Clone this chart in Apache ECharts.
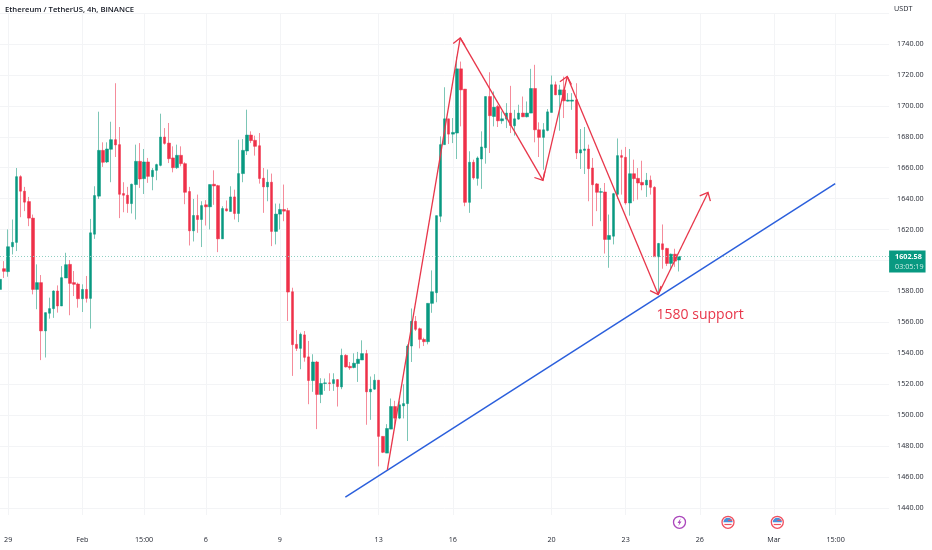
<!DOCTYPE html>
<html><head><meta charset="utf-8">
<style>html,body{margin:0;padding:0;background:#fff}#c{width:932px;height:550px}</style>
<script src="https://cdn.jsdelivr.net/npm/echarts@6/dist/echarts.min.js"></script>
</head><body><div id="c"></div>
<script>
// [open, close, low, high], one row per 4h bar
const candles = [
[1581.3,1587.8,1572.8,1588.9],[1594.7,1593.0,1588.7,1599.6],[1592.8,1608.9,1589.5,1620.1],[1608.9,1611.7,1603.9,1626.5],
[1611.7,1654.2,1606.1,1659.8],[1654.2,1644.8,1628.0,1655.1],[1644.8,1637.7,1631.9,1647.6],[1638.1,1627.4,1622.2,1641.1],
[1627.4,1581.3,1578.1,1629.7],[1581.3,1585.7,1568.5,1597.5],[1585.7,1554.5,1535.6,1590.6],[1554.5,1566.3,1537.3,1566.3],
[1565.9,1568.9,1562.4,1576.0],[1568.9,1580.3,1562.9,1580.7],[1580.3,1570.6,1566.3,1583.9],[1570.6,1588.9,1570.6,1596.4],
[1588.7,1597.3,1588.7,1605.0],[1597.5,1585.2,1564.6,1600.3],[1585.7,1584.6,1577.0,1593.2],[1584.8,1575.3,1569.5,1585.7],
[1575.3,1581.3,1566.7,1584.6],[1581.3,1575.5,1572.8,1590.0],[1575.5,1617.9,1556.0,1626.9],[1617.0,1642.0,1614.0,1648.0],
[1641.6,1671.2,1639.8,1696.2],[1671.2,1663.5,1660.5,1676.4],[1663.7,1672.1,1663.0,1676.4],[1671.9,1678.1,1650.6,1689.7],
[1678.1,1674.7,1666.9,1714.6],[1674.9,1642.8,1627.4,1686.3],[1643.3,1642.2,1631.2,1650.6],[1642.2,1636.8,1630.8,1647.6],
[1636.8,1649.3,1630.4,1649.7],[1649.1,1664.1,1626.5,1674.9],[1664.1,1652.7,1646.9,1675.9],[1652.9,1663.7,1643.0,1672.1],
[1663.7,1654.4,1650.2,1666.3],[1654.2,1658.3,1645.4,1659.8],[1658.3,1662.0,1651.9,1662.6],[1661.5,1679.8,1660.9,1694.9],
[1679.8,1675.7,1674.9,1685.6],[1675.9,1665.8,1663.0,1688.9],[1666.3,1660.0,1657.0,1673.8],[1660.0,1668.0,1659.2,1674.9],
[1668.0,1662.6,1660.9,1673.8],[1662.6,1644.1,1636.4,1663.5],[1644.6,1619.2,1609.7,1647.6],[1619.2,1629.1,1612.3,1639.8],
[1629.1,1626.5,1617.9,1642.6],[1626.5,1635.5,1608.7,1638.3],[1636.0,1634.7,1622.6,1639.0],[1634.7,1649.1,1620.1,1649.1],
[1649.3,1648.2,1636.0,1658.3],[1648.4,1614.0,1605.4,1648.9],[1614.0,1633.6,1614.0,1635.1],[1633.4,1632.1,1631.7,1638.8],
[1631.7,1641.1,1631.7,1648.0],[1641.1,1630.4,1626.5,1645.8],[1630.4,1656.2,1624.8,1678.1],[1656.2,1671.2,1650.6,1678.5],
[1670.8,1681.1,1668.2,1697.5],[1681.1,1677.5,1675.9,1683.5],[1677.7,1673.8,1667.8,1680.7],[1674.2,1653.0,1649.7,1682.4],
[1653.2,1647.6,1630.8,1659.8],[1647.6,1650.6,1638.3,1658.8],[1650.6,1618.8,1609.3,1656.2],[1618.8,1630.0,1610.4,1636.8],
[1630.0,1633.0,1620.1,1636.8],[1633.0,1631.9,1625.4,1649.1],[1632.3,1579.6,1560.9,1634.0],[1579.8,1545.6,1525.4,1582.4],
[1545.8,1543.2,1541.5,1555.1],[1543.2,1552.3,1529.7,1553.4],[1551.9,1537.4,1534.6,1554.4],[1537.7,1522.4,1507.1,1548.0],
[1522.4,1534.4,1515.1,1539.4],[1534.4,1513.4,1491.0,1535.1],[1513.4,1520.5,1507.8,1523.9],[1520.5,1520.9,1515.7,1523.7],
[1520.9,1520.5,1515.7,1527.1],[1520.5,1523.0,1515.7,1527.1],[1523.0,1518.5,1505.6,1523.2],[1518.3,1538.7,1516.8,1543.0],
[1538.7,1531.2,1530.8,1539.4],[1531.6,1530.6,1529.3,1534.4],[1530.8,1533.6,1530.3,1540.0],[1533.4,1536.2,1521.5,1540.9],
[1535.7,1539.8,1535.7,1548.4],[1539.8,1515.1,1493.8,1542.2],[1515.1,1516.8,1497.0,1525.0],[1516.8,1522.6,1516.4,1526.5],
[1522.6,1486.3,1466.9,1522.8],[1486.3,1476.0,1475.5,1486.3],[1475.5,1491.4,1475.5,1494.2],[1491.0,1505.6,1491.0,1510.8],
[1505.6,1498.1,1492.1,1509.3],[1498.1,1506.7,1497.4,1509.3],[1506.0,1507.5,1497.9,1520.0],[1507.5,1544.7,1483.3,1545.8],
[1544.7,1560.7,1534.4,1569.0],[1560.7,1555.5,1554.4,1564.1],[1555.9,1549.0,1543.2,1556.6],[1549.0,1547.5,1544.7,1550.1],
[1547.5,1572.3,1545.8,1572.3],[1572.3,1579.8,1566.2,1593.6],[1579.2,1629.0,1573.0,1629.0],[1628.6,1674.9,1624.8,1680.2],
[1674.9,1691.6,1674.9,1712.0],[1691.6,1681.7,1675.3,1691.6],[1681.7,1682.8,1675.9,1692.1],[1682.4,1723.9,1665.6,1731.8],
[1723.9,1710.3,1686.7,1728.6],[1710.8,1637.6,1635.1,1710.8],[1637.6,1663.5,1630.8,1670.6],[1663.5,1653.4,1652.3,1665.2],
[1653.1,1666.3,1648.4,1667.3],[1665.6,1673.4,1646.3,1683.5],[1672.9,1706.0,1662.6,1706.0],[1706.0,1693.6,1669.5,1721.7],
[1693.1,1699.1,1686.7,1709.3],[1699.6,1690.3,1686.3,1700.7],[1690.3,1691.6,1688.4,1696.4],[1691.4,1695.3,1685.6,1701.7],
[1695.3,1687.3,1682.4,1712.9],[1687.1,1691.6,1680.7,1697.4],[1691.4,1695.3,1691.0,1700.7],[1695.3,1692.9,1692.7,1706.0],
[1692.9,1695.3,1692.5,1702.8],[1695.3,1711.2,1695.3,1723.9],[1711.2,1684.5,1676.4,1726.5],[1684.5,1679.6,1666.9,1689.3],
[1679.6,1684.5,1658.7,1688.8],[1684.1,1696.1,1683.5,1697.9],[1695.7,1713.6,1695.7,1719.6],[1713.6,1707.1,1706.9,1715.7],
[1707.1,1710.3,1683.9,1713.6],[1710.3,1703.2,1692.1,1718.9],[1703.0,1703.7,1702.8,1708.2],[1703.0,1703.7,1697.4,1708.2],
[1703.9,1669.5,1665.6,1714.6],[1669.5,1671.6,1659.2,1685.0],[1671.2,1672.1,1655.9,1686.3],[1672.1,1659.4,1638.3,1674.9],
[1659.8,1649.0,1622.2,1666.3],[1649.5,1644.1,1631.9,1650.1],[1644.1,1644.5,1625.4,1646.9],[1644.3,1613.6,1604.5,1650.1],
[1613.6,1616.2,1595.3,1629.7],[1615.7,1643.2,1610.4,1643.7],[1642.8,1667.8,1639.8,1678.9],[1667.8,1666.7,1642.6,1671.6],
[1666.7,1637.2,1636.1,1673.4],[1637.2,1656.1,1629.0,1672.1],[1656.1,1652.9,1638.3,1665.2],[1653.1,1650.1,1639.4,1659.8],
[1650.5,1648.8,1645.4,1664.5],[1648.8,1651.9,1641.1,1656.6],[1651.9,1647.3,1642.6,1654.9],[1647.3,1602.4,1602.4,1648.0],
[1602.4,1611.0,1579.2,1611.4],[1610.8,1607.1,1594.7,1623.3],[1607.8,1598.1,1596.4,1608.2],[1598.1,1604.1,1594.2,1604.5],
[1604.1,1599.6,1595.9,1607.6],[1600.3,1602.6,1592.9,1602.8]
];
// time-axis bars with a label, and the labels themselves
const barCount = 217;
const tickBars = [2,20,35,50,68,92,110,134,152,170,188,203];
const tickLabels = ['29','Feb','15:00','6','9','13','16','20','23','26','Mar','15:00'];
// price levels whose tick label does not appear (top of pane, and the one under the price tag)
const hiddenPriceLabels = [1760,1600];
// drawn annotations as [bar, price] pairs
const zigzag = [[94.1,1464.7],[111.8,1743.9],[131.9,1651.8],[137.8,1718.9],[159.9,1578],[172,1644]];
const trendline = [[83.9,1447.1],[202.9,1649.7]];
const supportNote = ['1580 support',170.1,1565];
const lastPrice = 1602.58;
const countdown = '03:05:19';
const title = 'Ethereum / TetherUS, 4h, BINANCE';
const currency = 'USDT';

const UP='#089981', DOWN='#ee3049', UPW='#7cc6b6', DOWNW='#f58c9b', RED='#e8364a', BLUE='#2b5fdc', TXT='#1e222d', GRID='#f3f4f6';
const FONT='"Open Sans"', FS=7.2;
const cats = Array.from({length:barCount},(_,i)=>{const k=tickBars.indexOf(i);return k>=0?tickLabels[k]+'|'+i:'b'+i;});
const tickSet = new Set(tickBars);
const segs=[]; for(let i=0;i<zigzag.length-1;i++) segs.push([...zigzag[i],...zigzag[i+1]]);

function arrows(params,api){
  const a=api.coord([api.value(0),api.value(1)]), b=api.coord([api.value(2),api.value(3)]);
  const ang=Math.atan2(a[1]-b[1],a[0]-b[0]), L=9, w=0.72;
  const p=t=>[b[0]+L*Math.cos(ang+t),b[1]+L*Math.sin(ang+t)];
  return {type:'group',children:[
    {type:'line',shape:{x1:a[0],y1:a[1],x2:b[0],y2:b[1]},style:{stroke:RED,lineWidth:1.3}},
    {type:'polyline',shape:{points:[p(w),b,p(-w)]},style:{stroke:RED,lineWidth:1.3,fill:null}}
  ]};
}
const vLine={show:true,interval:(i)=>tickSet.has(i),lineStyle:{color:GRID,width:1}};
const chart=echarts.init(document.getElementById('c'),null,{renderer:'canvas'});
chart.setOption({
  animation:false,backgroundColor:'#fff',
  title:{text:title,left:5,top:6,padding:0,textStyle:{fontFamily:FONT,fontSize:7.7,fontWeight:600,color:'#131722'}},
  grid:[{left:-0.8,width:4.12*(barCount-1),top:13,height:495},
        {left:-0.8,width:4.12*(barCount-1),top:508,height:7}],
  xAxis:[{type:'category',data:cats,boundaryGap:false,
      axisLine:{show:false},axisTick:{show:false},
      axisLabel:{interval:(i)=>tickSet.has(i),color:TXT,fontFamily:FONT,fontSize:FS,margin:28,hideOverlap:false,formatter:v=>v.split('|')[0]},
      splitLine:vLine},
    {type:'value',min:0,max:barCount-1,show:false},
    {type:'category',gridIndex:1,data:cats,boundaryGap:false,axisLine:{show:false},axisTick:{show:false},axisLabel:{show:false},splitLine:vLine}],
  yAxis:[{type:'value',position:'right',min:1440,max:1760,interval:20,
    axisLine:{show:false},axisTick:{show:false},
    axisLabel:{margin:8,color:TXT,fontFamily:FONT,fontSize:FS,padding:[2,0,0,0],formatter:v=>hiddenPriceLabels.includes(v)?'':v.toFixed(2)},
    splitLine:{show:true,lineStyle:{color:GRID,width:1}}},
    {type:'value',gridIndex:1,show:false}],
  series:[
    {name:'wicks',type:'candlestick',barWidth:1,data:candles,
      itemStyle:{color:UPW,color0:DOWNW,borderColor:UPW,borderColor0:DOWNW,borderWidth:1}},
    {name:'bodies',type:'candlestick',barWidth:3,
      data:candles.map(([o,c])=>[o,c,Math.min(o,c),Math.max(o,c)]),
      itemStyle:{color:UP,color0:DOWN,borderColor:UP,borderColor0:DOWN,borderWidth:0.5},
      markLine:{silent:true,symbol:'none',animation:false,
        lineStyle:{color:'#8fd0c2',type:[1,2],width:1},
        data:[{yAxis:lastPrice}],
        label:{position:'end',distance:0,offset:[0,5],formatter:'{a|'+lastPrice.toFixed(2)+'}\n{b|'+countdown+'}',
          backgroundColor:UP,padding:[1,2,1,6],
          rich:{a:{color:'#fff',fontFamily:FONT,fontSize:FS,fontWeight:700,lineHeight:10},
                b:{color:'#cfeee7',fontFamily:FONT,fontSize:FS,lineHeight:10}}}}},
    {name:'trend',type:'line',xAxisIndex:1,data:trendline,symbol:'none',z:5,lineStyle:{color:BLUE,width:1.5}},
    {name:'zigzag',type:'custom',xAxisIndex:1,data:segs,encode:{x:[0,2],y:[1,3]},renderItem:arrows,z:6,clip:false},
    {name:'note',type:'custom',xAxisIndex:1,data:[supportNote],encode:{x:1,y:2},z:6,
      dimensions:[{name:'t',type:'ordinal'},'x','y'],
      renderItem:(p,api)=>{const c=api.coord([api.value(1),api.value(2)]);
        return {type:'text',x:c[0],y:c[1],style:{text:supportNote[0],fill:RED,font:'14px '+FONT,align:'center',verticalAlign:'middle'}};}}
  ],
  graphic:[
    {type:'text',x:894,y:5,style:{text:currency,fill:TXT,font:FS+'px '+FONT}},
    {type:'group',x:679.5,y:522.3,silent:true,children:[
      {type:'circle',shape:{r:6},style:{fill:'#fff',stroke:'#ab47bc',lineWidth:1.3}},
      {type:'polygon',shape:{points:[[1.2,-4],[-2,0.7],[-0.2,0.7],[-1.2,4],[2,-0.7],[0.2,-0.7]]},style:{fill:'#ab47bc'}}]},
    ...[728,777.3].map(x=>({type:'group',x:x,y:522.3,silent:true,children:[
      {type:'circle',shape:{r:6},style:{fill:'#fff',stroke:'#f0505f',lineWidth:1.3}},
      {type:'sector',shape:{r:4.6,r0:0,startAngle:Math.PI,endAngle:Math.PI*2},style:{fill:'#4a90d9'}},
      {type:'rect',shape:{x:0,y:-2.6,width:4.2,height:1.2},style:{fill:'#f0505f'}},
      {type:'rect',shape:{x:-3.6,y:1.6,width:7.2,height:1.2},style:{fill:'#f0505f'}}]}))
  ]
});
</script></body></html>
